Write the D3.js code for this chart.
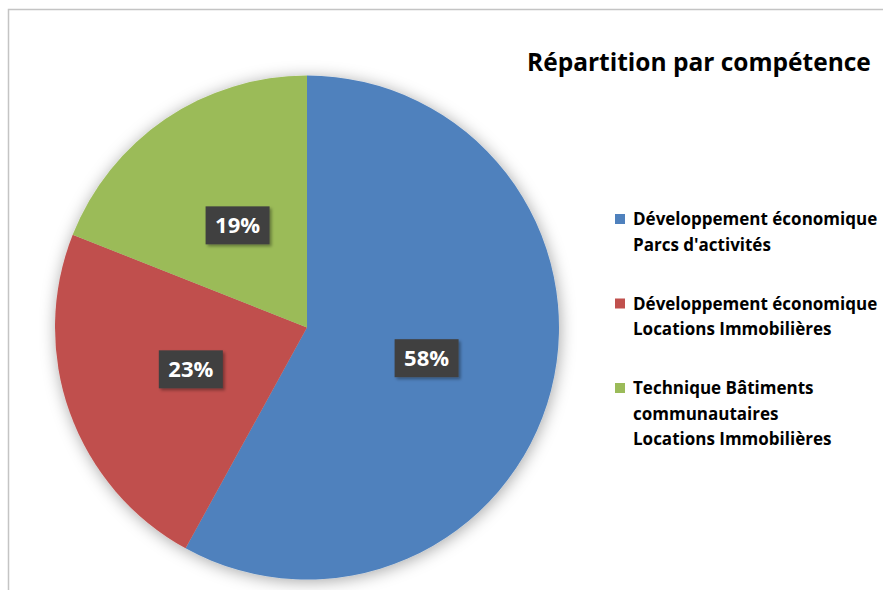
<!DOCTYPE html>
<html>
<head>
<meta charset="utf-8">
<script src="https://cdn.jsdelivr.net/npm/d3@7"></script>
<style>
body{margin:0;background:#fff;}
svg{display:block;font-family:"Open Sans",Lato,sans-serif;}
</style>
</head>
<body>
<svg class="piesvg"></svg>
<script>
var width  = 883;
var height = 590;

var categories = [
    ["Développement économique","Parcs d'activités"],
    ["Développement économique","Locations Immobilières"],
    ["Technique Bâtiments","communautaires","Locations Immobilières"]
];
var values = [58, 23, 19];
var colors = ["#4F81BD","#C0504D","#9BBB59"];
var title = "Répartition par compétence";

var svg = d3.select('.piesvg')
    .attr("width",width)
    .attr("height",height)

var defs = svg.append('defs');
defs.append('filter')
    .attr("id","pieShadow")
    .attr("x","-20%").attr("y","-20%")
    .attr("width","140%").attr("height","140%")
    .append('feDropShadow')
    .attr("dx",1).attr("dy",2)
    .attr("stdDeviation",8)
    .attr("flood-color","#000")
    .attr("flood-opacity",0.35)
defs.append('filter')
    .attr("id","boxShadow")
    .attr("x","-30%").attr("y","-30%")
    .attr("width","160%").attr("height","160%")
    .append('feDropShadow')
    .attr("dx",2).attr("dy",2)
    .attr("stdDeviation",1.5)
    .attr("flood-color","#000")
    .attr("flood-opacity",0.35)

// chart border, cut off at right and bottom like the original
svg.append('rect')
    .attr("x",8.5)
    .attr("y",9.5)
    .attr("width",width+20)
    .attr("height",height+20)
    .attr("fill","none")
    .attr("stroke","#c4c4c4")
    .attr("stroke-width",1.5)

var cx = 307, cy = 327.5, radius = 252;

var pie = d3.pie()
    .sort(null)
    .value(d=>d)
    (values);

var arc = d3.arc()
    .innerRadius(0)
    .outerRadius(radius);

var labelArc = d3.arc()
    .innerRadius(radius*0.49)
    .outerRadius(radius*0.49);

var pieChart = svg.append('g')
    .classed('pieChart',true)
    .attr("transform",`translate(${cx},${cy})`)

pieChart.append('g')
    .attr("filter","url(#pieShadow)")
    .selectAll('.arc')
    .data(pie)
    .enter()
    .append('path')
    .classed('arc',true)
    .attr("d",arc)
    .attr("fill",(d,i)=>colors[i])

var labels = pieChart.selectAll('.lbl')
    .data(pie)
    .enter()
    .append('g')
    .classed('lbl',true)
    .attr("transform",d=>`translate(${labelArc.centroid(d)})`)

labels.append('rect')
    .attr("x",-32)
    .attr("y",-19)
    .attr("width",64)
    .attr("height",38)
    .attr("fill","#404040")
    .attr("filter","url(#boxShadow)")

labels.append('text')
    .attr("text-anchor","middle")
    .attr("dy","0.36em")
    .attr("fill","#fff")
    .attr("font-weight","bold")
    .attr("font-size",22)
    .text(d=>d.data+"%")

svg.append('text')
    .attr("x",527)
    .attr("y",71)
    .attr("font-weight","bold")
    .attr("font-size",24.5)
    .attr("fill","#000")
    .text(title)

var legend = svg.selectAll('.legendItem')
    .data(categories)
    .enter()
    .append('g')
    .classed('legendItem',true)
    .attr("transform",(d,i)=>`translate(615,${225+i*84.5})`)

legend.append('rect')
    .attr("x",0)
    .attr("y",-11)
    .attr("width",10)
    .attr("height",10)
    .attr("fill",(d,i)=>colors[i])

legend.append('text')
    .attr("x",18)
    .attr("font-weight","bold")
    .attr("font-size",17)
    .attr("fill","#000")
    .selectAll('tspan')
    .data(d=>d)
    .enter()
    .append('tspan')
    .attr("x",18)
    .attr("dy",(d,i)=>i===0?0:25.5)
    .text(d=>d)
</script>
</body>
</html>
